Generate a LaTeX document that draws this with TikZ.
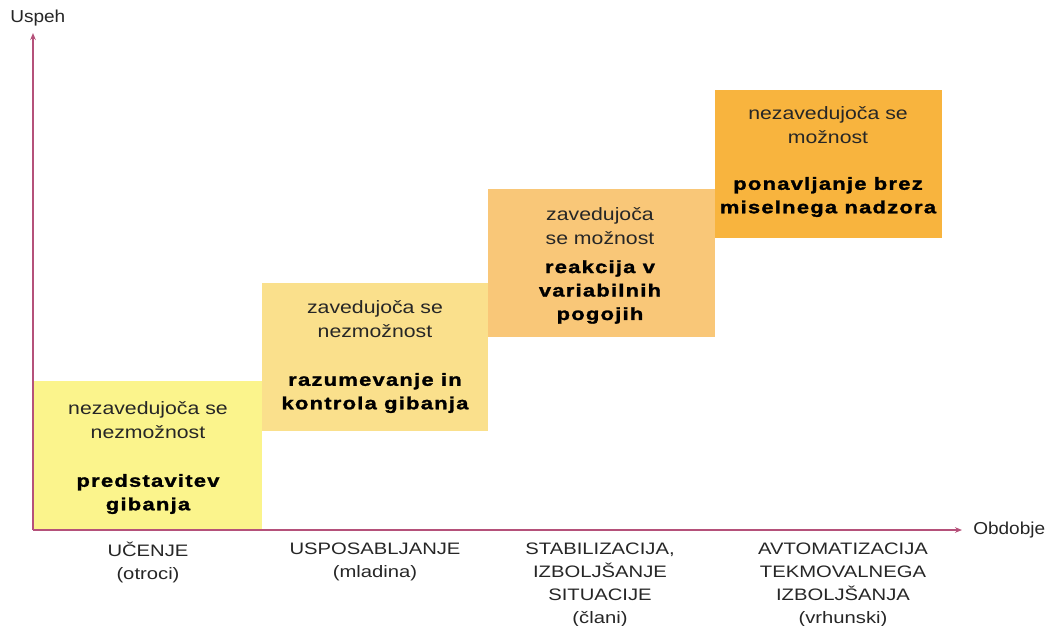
\documentclass[tikz,border=0pt]{standalone}
\usepackage{fontspec}
\setmainfont{Liberation Sans}
\newfontfamily\boxfont[FakeStretch=1.19]{Liberation Sans}
\newfontfamily\labelfont[FakeStretch=1.22]{Liberation Sans}
\newfontfamily\axisfont[FakeStretch=1.1]{Liberation Sans}
\newfontfamily\strongfont[FakeStretch=1.25,LetterSpace=7,FakeBold=1.5]{Liberation Sans}
\usetikzlibrary{arrows.meta}
\definecolor{axispink}{HTML}{B5517A}
\definecolor{stepone}{HTML}{FBF48C}
\definecolor{steptwo}{HTML}{FAE08C}
\definecolor{stepthree}{HTML}{F9C778}
\definecolor{stepfour}{HTML}{F8B43E}
\definecolor{txtgray}{HTML}{262626}
\begin{document}
\begin{tikzpicture}[x=0.025cm, y=-0.025cm,
  plain/.style={align=center, inner sep=0pt, text=txtgray, font=\boxfont\fontsize{12.7}{16.7}\selectfont},
  strong/.style={align=center, inner sep=0pt, text=black, font=\strongfont\bfseries\fontsize{12.5}{16.7}\selectfont},
  period/.style={align=center, inner sep=0pt, text=txtgray, font=\labelfont\fontsize{11.8}{16.4}\selectfont},
  axislabel/.style={anchor=west, inner sep=0pt, text=txtgray, font=\axisfont\fontsize{12.3}{14}\selectfont},
  axis/.style={axispink, line width=0.8pt, -{Stealth[length=5pt, width=4pt]}}]
\useasboundingbox (0,0) rectangle (1048,626);
% stopnice
\fill[stepone]   (33,381)  rectangle (262,530);
\fill[steptwo]   (262,283) rectangle (488,431);
\fill[stepthree] (488,189) rectangle (715,337);
\fill[stepfour]  (715,90)  rectangle (942,238);
% osi
\coordinate (O) at (33,530);
\coordinate (ytop) at (33,33);
\coordinate (xend) at (962,530);
\draw[axis] (O) -- (ytop);
\draw[axis] (O) -- (xend);
\node[axislabel] (uspeh) at (10,18) {Uspeh};
\node[axislabel] (obdobje) at (973,530) {Obdobje};
% besedila v stopnicah
\node[plain]  (s1a) at (148,420) {nezavedujoča se\\nezmožnost};
\node[strong] (s1b) at (148,494) {predstavitev\\gibanja};
\node[plain]  (s2a) at (375,319) {zavedujoča se\\nezmožnost};
\node[strong] (s2b) at (375,393) {razumevanje in\\kontrola gibanja};
\node[plain]  (s3a) at (600,226) {zavedujoča\\se možnost};
\node[strong] (s3b) at (600,292) {reakcija v\\variabilnih\\pogojih};
\node[plain]  (s4a) at (828,125) {nezavedujoča se\\možnost};
\node[strong] (s4b) at (828,197) {ponavljanje brez\\miselnega nadzora};
% obdobja
\node[period] (p1) at (148,562) {UČENJE\\(otroci)};
\node[period] (p2) at (375,562) {USPOSABLJANJE\\(mladina)};
\node[period] (p3) at (600,585) {STABILIZACIJA,\\IZBOLJŠANJE\\SITUACIJE\\(člani)};
\node[period] (p4) at (843,585) {AVTOMATIZACIJA\\TEKMOVALNEGA\\IZBOLJŠANJA\\(vrhunski)};
\end{tikzpicture}
\end{document}
